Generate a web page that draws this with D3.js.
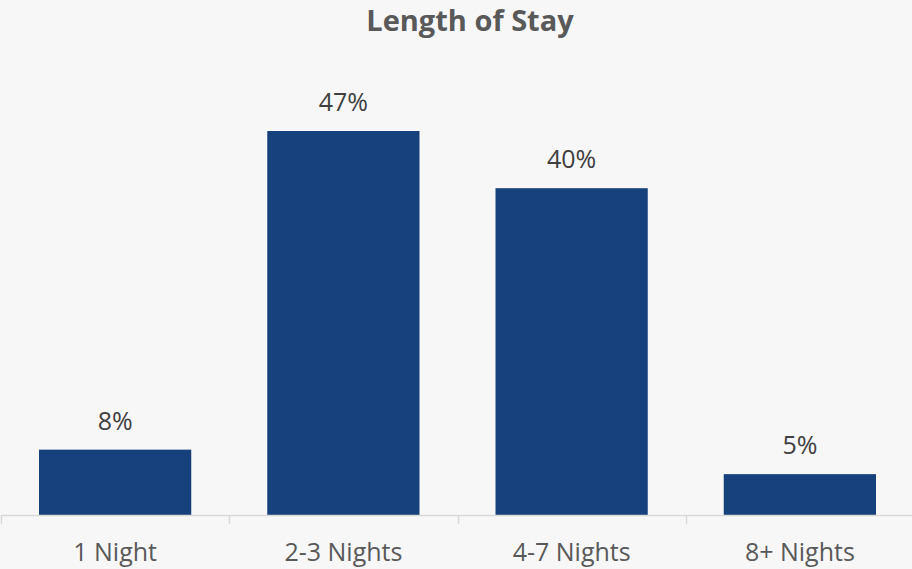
<!DOCTYPE html>
<html>
<head>
<meta charset="utf-8">
<script src="https://cdn.jsdelivr.net/npm/d3@7"></script>
<style>
  html, body { margin: 0; padding: 0; background: #f7f7f7; }
  svg { display: block; }
</style>
</head>
<body>
<svg id="chart" width="912" height="569"></svg>
<script>
// Length of stay distribution (% of stays)
const categories = ["1 Night", "2-3 Nights", "4-7 Nights", "8+ Nights"];
const values = [8, 47, 40, 5];
const valueLabels = ["8%", "47%", "40%", "5%"];
const title = "Length of Stay";

const W = 912, H = 569;
const baseY = 515;
const font = "'Open Sans', 'Noto Sans', sans-serif";

const svg = d3.select("#chart");
svg.append("rect").attr("width", W).attr("height", H).attr("fill", "#f7f7f7");

const x = d3.scaleBand().domain(categories).range([1, 914]).paddingInner(0.333).paddingOuter(0.1665);
const y = d3.scaleLinear().domain([0, 50]).range([baseY, baseY - 50 * 8.17]);

svg.append("text")
  .attr("x", 470).attr("y", 31)
  .attr("text-anchor", "middle")
  .attr("font-family", font).attr("font-weight", 700)
  .attr("font-size", 29).attr("fill", "#595959")
  .text(title);

svg.append("g").selectAll("rect")
  .data(values)
  .join("rect")
  .attr("x", (d, i) => x(categories[i]))
  .attr("width", x.bandwidth())
  .attr("y", d => y(d))
  .attr("height", d => y(0) - y(d))
  .attr("fill", "#17417c");

svg.append("g").selectAll("text")
  .data(values)
  .join("text")
  .attr("x", (d, i) => x(categories[i]) + x.bandwidth() / 2)
  .attr("y", d => y(d) - 20)
  .attr("text-anchor", "middle")
  .attr("font-family", font).attr("font-size", 25)
  .attr("fill", "#404040")
  .text((d, i) => valueLabels[i]);

// category axis along the baseline
const xAxis = d3.scaleBand().domain(categories).range([1, 914]);
const axisG = svg.append("g");
axisG.append("line")
  .attr("x1", 1).attr("x2", W).attr("y1", baseY + 0.5).attr("y2", baseY + 0.5)
  .attr("stroke", "#d9d9d9").attr("stroke-width", 1.5);
const tickXs = categories.map(c => xAxis(c)).concat([xAxis.range()[1]]);
axisG.selectAll("line.tick")
  .data(tickXs)
  .join("line").attr("class", "tick")
  .attr("x1", d => Math.round(d) + 0.5).attr("x2", d => Math.round(d) + 0.5)
  .attr("y1", baseY).attr("y2", baseY + 9)
  .attr("stroke", "#d9d9d9").attr("stroke-width", 1.5);
axisG.selectAll("text")
  .data(categories)
  .join("text")
  .attr("x", d => xAxis(d) + xAxis.bandwidth() / 2)
  .attr("y", 561)
  .attr("text-anchor", "middle")
  .attr("font-family", font).attr("font-size", 25)
  .attr("fill", "#595959")
  .text(d => d);
</script>
</body>
</html>
